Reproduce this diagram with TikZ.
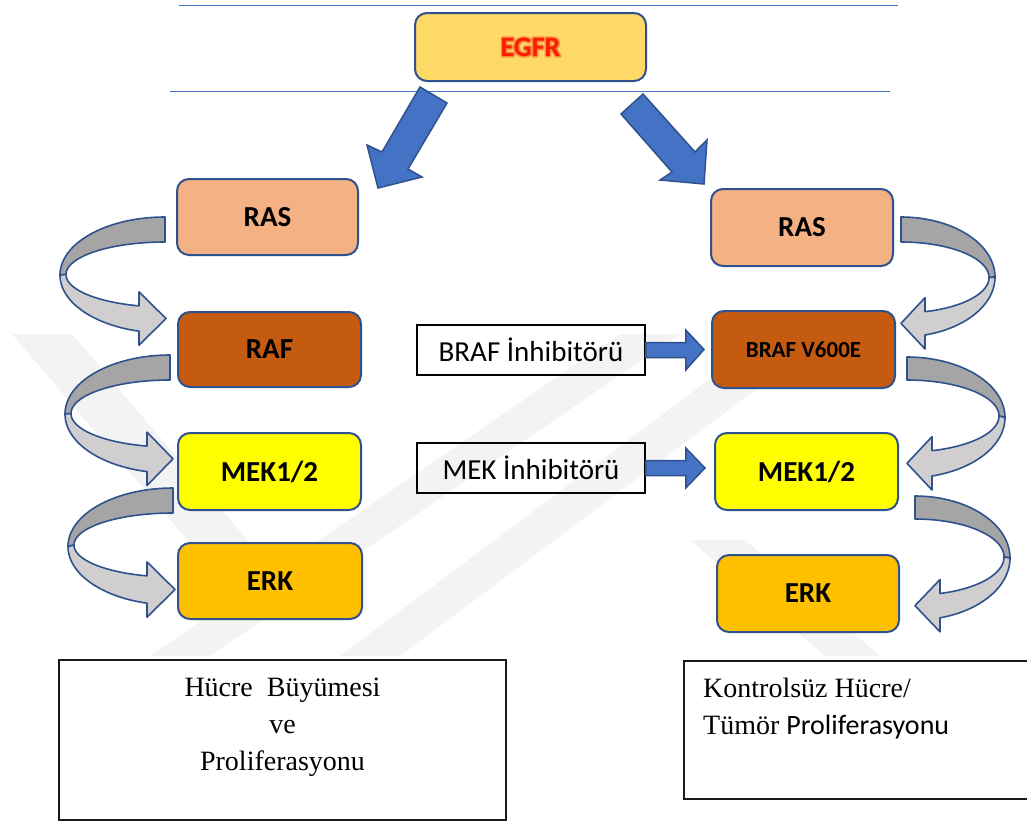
\documentclass[tikz,border=0pt]{standalone}
\usepackage{fontspec}
\setmainfont{Liberation Serif}
\newfontfamily\calfont{Carlito}
\usetikzlibrary{calc}
\definecolor{bord}{HTML}{2F528F}
\definecolor{rasc}{HTML}{F4B183}
\definecolor{rafc}{HTML}{C55A11}
\definecolor{mekc}{HTML}{FFFF00}
\definecolor{erkc}{HTML}{FFC000}
\definecolor{egfrc}{HTML}{FFD966}
\definecolor{blu}{HTML}{4472C4}
\definecolor{darkg}{HTML}{A5A5A5}
\definecolor{lightg}{HTML}{D0CECE}
\definecolor{wm}{HTML}{F3F3F3}
\definecolor{linec}{HTML}{4472C4}
\definecolor{egfrred}{HTML}{FF1A00}

\newcommand{\CurvArr}[9]{%
 \pgfmathsetmacro{\cyo}{(#3+#6)/2}%
 \pgfmathsetmacro{\ryo}{(#6-#3)/2}%
 \pgfmathsetmacro{\cyi}{(#4+#5)/2}%
 \pgfmathsetmacro{\ryi}{(#5-#4)/2}%
 \pgfmathsetmacro{\rxi}{#7-6}%
 \pgfmathsetmacro{\tho}{360-acos((#2-#8)/(#1*#7))}%
 \pgfmathsetmacro{\thi}{360-acos((#2-#8)/(#1*\rxi))}%
 \pgfmathsetmacro{\yo}{\cyo-\ryo*sin(\tho)}%
 \pgfmathsetmacro{\yi}{\cyi-\ryi*sin(\thi)}%
 \pgfmathsetmacro{\ym}{(\yo+\yi)/2}%
 \draw[curv, fill=darkg] plot[variable=\t, domain=90:180, samples=40] ({#2-#1*#7*cos(\t)},{\cyo-\ryo*sin(\t)})
   -- plot[variable=\t, domain=180:90, samples=40] ({#2-#1*\rxi*cos(\t)},{\cyi-\ryi*sin(\t)}) -- cycle;
 \draw[curv, fill=lightg] plot[variable=\t, domain=180:\tho, samples=40] ({#2-#1*#7*cos(\t)},{\cyo-\ryo*sin(\t)})
   -- (#8,\yo+14) -- (#9,\ym) -- (#8,\yi-14) -- (#8,\yi)
   -- plot[variable=\t, domain=\thi:180, samples=40] ({#2-#1*\rxi*cos(\t)},{\cyi-\ryi*sin(\t)}) -- cycle;
}
\newcommand{\GlowText}[1]{\rlap{\special{pdf:literal direct 1 Tr 3 w 1 j 0.97 0.55 0.25 RG}#1\special{pdf:literal direct 0 Tr}}#1}

\begin{document}
\begin{tikzpicture}[x=1pt,y=-1pt,
  box/.style={draw=bord, line width=2pt, rounded corners=12pt, inner sep=0pt,
    font=\calfont\bfseries\fontsize{29}{33}\selectfont},
  curv/.style={draw=bord, line width=1.6pt, line join=round},
  bluearrow/.style={draw=bord, fill=blu, line width=1.5pt, line join=miter},
  inhbox/.style={draw=black, line width=1.5pt, inner sep=0pt, minimum width=228pt, minimum height=50pt,
    font=\calfont\fontsize{29}{33}\selectfont},
  outbox/.style={draw=black!90, line width=1.6pt, inner sep=0pt},
  serif/.style={font=\fontsize{28}{37}\selectfont, inner sep=0pt},
  hline/.style={draw=linec, line width=1pt}]
\useasboundingbox (0,0) rectangle (1027,823);
\clip (0,0) rectangle (1027,823);
\fill[white] (0,0) rectangle (1027,823);

% watermark
\fill[wm] (12,334) -- (72,334) -- (290,590) -- (230,590) -- cycle;
\fill[wm] (150,656) -- (210,656) -- (680,334) -- (620,334) -- cycle;
\fill[wm] (340,656) -- (400,656) -- (830,334) -- (770,334) -- cycle;
\fill[wm] (690,540) -- (745,540) -- (880,656) -- (825,656) -- cycle;

% horizontal lines
\draw[hline] (179,5) -- (898,5);
\draw[hline] (170,91) -- (890,91);

% EGFR
\node[box, fill=egfrc, minimum width=231pt, minimum height=68pt] (egfr) at (530.5,47) {};
\node[font=\calfont\bfseries\fontsize{28}{32}\selectfont, text=egfrred] (egfrt) at (egfr.center) {\GlowText{EGFR}};

% diagonal blue arrows
\draw[bluearrow] (420,87) -- (447,103) -- (408,169) -- (422,177) -- (378,188) -- (367,145) -- (382,152) -- cycle;
\draw[bluearrow] (621,114) -- (643,94) -- (695,152) -- (707,140) -- (704,184) -- (660,180) -- (672,172) -- cycle;

% left column
\node[box, fill=rasc, minimum width=181pt, minimum height=76pt] (ras1) at (267.5,217) {RAS};
\node[box, fill=rafc, minimum width=183pt, minimum height=75pt] (raf1) at (269.5,349.5) {RAF};
\node[box, fill=mekc, minimum width=183pt, minimum height=77pt] (mek1) at (269.5,471.5) {MEK1/2};
\node[box, fill=erkc, minimum width=184pt, minimum height=76pt] (erk1) at (270,581) {ERK};

% right column
\node[box, fill=rasc, minimum width=182pt, minimum height=77pt] (ras2) at (802,227.5) {RAS};
\node[box, fill=rafc, minimum width=183pt, minimum height=77pt, font=\calfont\bfseries\fontsize{23}{27}\selectfont] (braf2) at (803.5,349.5) {BRAF V600E};
\node[box, fill=mekc, minimum width=183pt, minimum height=77pt] (mek2) at (806.5,471.5) {MEK1/2};
\node[box, fill=erkc, minimum width=182pt, minimum height=77pt] (erk2) at (808,593.5) {ERK};

% curved arrows
\CurvArr{-1}{165}{217}{242}{307}{333}{105}{139}{166}
\CurvArr{-1}{170}{355}{380}{447}{473}{105}{147}{173}
\CurvArr{-1}{173}{488}{513}{577}{605}{105}{147}{175}
\CurvArr{1}{901}{217}{242}{313}{337}{94}{925}{901}
\CurvArr{1}{907}{357}{380}{452}{478}{98}{932}{907}
\CurvArr{1}{915}{496}{519}{595}{620}{95}{940}{915}

% inhibitors
\node[inhbox] (inh1) at (531,350) {BRAF İnhibitörü};
\node[inhbox] (inh2) at (531,468) {MEK İnhibitörü};
\draw[bluearrow] ($(inh1.east)+(0,-7.5)$) -- ++(40,0) -- ++(0,-12.5) -- ($(braf2.west)+(-7,0)$)
  -- ($(inh1.east)+(40,20)$) -- ++(0,-12.5) -- ($(inh1.east)+(0,7.5)$) -- cycle;
\draw[bluearrow] ($(inh2.east)+(0,-7.5)$) -- ++(40,0) -- ++(0,-12.5) -- ($(mek2.west)+(-9,-3.5)$)
  -- ($(inh2.east)+(40,20)$) -- ++(0,-12.5) -- ($(inh2.east)+(0,7.5)$) -- cycle;

% outcome boxes
\node[outbox, minimum width=447pt, minimum height=160pt] (out1) at (282.5,740) {};
\node[serif, align=center] (out1t) at (282.5,727) {Hücre\ \ Büyümesi\\ve\\Proliferasyonu};
\node[outbox, minimum width=350pt, minimum height=138pt, anchor=north west] (out2) at (683,660) {};
\node[serif, align=left, anchor=west] (out2t) at (703,709) {Kontrolsüz Hücre/\\Tümör {\calfont Proliferasyonu}};
\end{tikzpicture}
\end{document}
